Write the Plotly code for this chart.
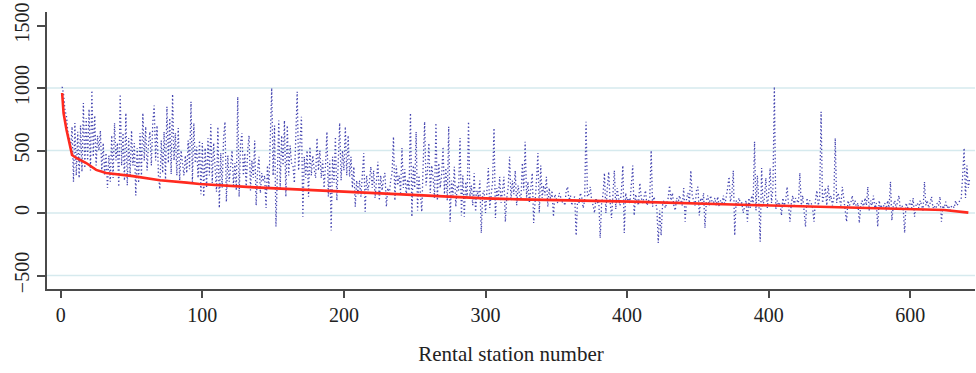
import plotly.graph_objects as go

# Blue dotted series: observed value per rental station (stations 1..642)
blue_values = [
    1010, 950, 820, 780, 650, 600, 520, 690, 250, 720,
    300, 650, 280, 700, 330, 880, 360, 760, 420, 830,
    340, 980, 450, 780, 380, 620, 500, 660, 330, 560,
    300, 480, 200, 460, 250, 620, 280, 720, 420, 560,
    210, 950, 380, 640, 260, 800, 220, 600, 300, 660,
    380, 560, 140, 520, 240, 640, 300, 800, 420, 690,
    340, 560, 650, 380, 720, 860, 420, 700, 300, 190,
    580, 320, 650, 270, 850, 400, 760, 310, 950, 420,
    640, 300, 680, 260, 500, 410, 300, 460, 320, 580,
    350, 890, 250, 720, 400, 530, 280, 580, 150, 560,
    130, 520, 200, 600, 300, 710, 240, 560, 350, 170,
    690, 40, 480, 200, 600, 730, 90, 460, 250, 380,
    500, 220, 400, 180, 930, 130, 560, 640, 300, 480,
    200, 500, 620, 180, 420, 280, 580, 60, 330, 450,
    160, 320, 250, 300, 40, 380, 200, 600, 1000, 300,
    700, -110, 400, 740, 200, 620, 380, 740, 130, 700,
    300, 540, 400, 380, 240, 560, 970, 340, 620, 770,
    -30, 450, 280, 500, 130, 530, 300, 460, 350, 280,
    600, 340, 500, 280, 420, 200, 380, 650, 130, 420,
    -140, 450, 240, 610, 100, 380, 720, 260, 500, 340,
    690, 300, 620, 290, 450, 200, 370, 50, 260, 150,
    260, 130, 320, 480, 10, 300, 180, 250, 370, 200,
    340, 120, 260, 410, 100, 300, 180, 280, 320, 50,
    200, 140, 260, 320, 610, 100, 380, 220, 300, 160,
    520, 200, 350, 140, 270, 180, 800, -30, 380, 200,
    650, 20, 300, 140, 10, 400, 730, 220, 330, 560,
    160, 380, 280, 120, 720, 100, 400, 200, 300, 530,
    150, 360, 100, 690, -70, 260, 140, 370, 50, 220,
    180, 600, -20, 300, -30, 250, 120, 730, 130, 220,
    60, 320, 10, 180, 120, 260, -160, 150, 180, 0,
    200, 360, 40, 140, 250, 680, -40, 200, 100, 290,
    80, 180, 290, -70, 120, 200, 450, 100, 260, 150,
    340, 60, 220, 150, 100, 400, 180, 570, 120, 250,
    80, 200, 320, -80, 150, 260, 480, 0, 380, 120,
    220, 140, 290, 50, 200, 100, 180, -30, 150, 120,
    80, 160, 130, 80, 110, 60, 180, 210, 100, 140,
    60, 120, 130, -180, 100, 80, 160, 120, 40, 100,
    730, 130, 150, 210, 100, 60, 0, 120, 80, 100,
    -200, 80, 150, 320, 0, 200, 330, 90, -40, 150,
    340, 30, 200, 120, 60, 180, 380, -160, 160, 100,
    120, 80, 200, 380, -20, 150, 100, 60, 240, 120,
    80, 140, 180, 60, 100, 120, 500, 50, 130, 80,
    40, -240, 20, -180, 60, 100, 40, 80, 120, 220,
    100, 160, 60, 20, 120, 80, 140, 100, 60, 200,
    -70, 120, 160, 80, 340, 140, 100, 60, 180, 210,
    -20, 120, 80, 160, -120, 100, 140, 60, 140, 90,
    80, 120, 60, 130, 50, 100, 80, 140, 60, 120,
    200, 290, 90, 150, 340, -180, 100, 60, 120, 80,
    80, 0, 60, 100, -70, 120, 40, 140, 80, 570,
    20, 300, 100, -230, 360, 60, 120, 280, 40, 150,
    360, 80, 200, 1010, 30, 100, 60, 80, -20, 120,
    60, 100, 210, 40, -70, 80, 140, 60, 120, 100,
    80, 320, 60, 140, 40, -110, 120, 60, 100, 80,
    40, -70, 100, 180, 60, 120, 810, 80, 140, 200,
    60, 220, 100, 140, 60, 120, 600, 80, 160, 100,
    60, 210, 120, 40, -70, 100, 60, 80, 140, 60,
    100, 40, 80, -80, 60, 100, 40, 120, 60, 210,
    20, 100, 60, 140, 40, 80, -110, 100, 40, 60,
    50, 80, 20, 100, 40, 250, -60, 60, 100, 40,
    80, 140, 20, 60, 40, -160, 80, 40, 60, 100,
    40, 120, -30, 60, 80, 40, 100, 60, 20, 250,
    60, 100, 40, 80, 130, 40, 60, 20, 80, 60,
    130, -70, 60, 40, 90, 40, 60, 20, 50, 60,
    40, 100, 60, 80, 100, 120, 300, 520, 120, 380,
    200, 280,
]
blue_stations = list(range(1, len(blue_values) + 1))

# Red solid curve: sorted / fitted value, read at key stations
red_stations = [1, 2, 4, 8, 11, 18, 25, 32, 51, 70, 89, 98, 137, 162,
                229, 300, 324, 403, 487, 554, 624, 641]
red_values = [960, 800, 670, 464, 440, 400, 345, 320, 295, 262, 243, 232,
              205, 192, 152, 117, 109, 91, 64, 43, 24, 3]

x_tick_vals = [0, 100, 200, 300, 400, 500, 600]
x_tick_text = ["0", "100", "200", "300", "400", "400", "600"]
y_tick_vals = [-500, 0, 500, 1000, 1500]
grid_values = [-500, 0, 500, 1000]

FONT = "Liberation Serif, Times New Roman, serif"
AXIS_COLOR = "#4a4a4a"
TEXT_COLOR = "#222222"

fig = go.Figure()
fig.add_trace(go.Scatter(
    x=blue_stations, y=blue_values, mode="lines",
    line=dict(color="#4545b0", width=1.3, dash="1.3px,2.4px"),
    showlegend=False, hoverinfo="skip",
))
fig.add_trace(go.Scatter(
    x=red_stations, y=red_values, mode="lines",
    line=dict(color="#ff2a1f", width=2.6),
    showlegend=False, hoverinfo="skip",
))

for g in grid_values:
    fig.add_shape(type="line", xref="paper", yref="y", x0=0, x1=1, y0=g, y1=g,
                  line=dict(color="#d6eaee", width=1.5), layer="below")

fig.update_layout(
    width=976, height=373,
    margin=dict(l=47, r=1, t=12, b=84),
    paper_bgcolor="white", plot_bgcolor="white",
    font=dict(family=FONT, size=20, color=TEXT_COLOR),
    xaxis=dict(
        range=[-9.7, 645.7],
        tickmode="array", tickvals=x_tick_vals, ticktext=x_tick_text,
        ticks="outside", ticklen=7, tickwidth=1.5, tickcolor=AXIS_COLOR,
        showline=True, linecolor=AXIS_COLOR, linewidth=1.5,
        showgrid=False, zeroline=False,
        tickfont=dict(family=FONT, size=20, color=TEXT_COLOR),
        title=dict(text="Rental station number", standoff=22,
                   font=dict(family=FONT, size=21, color=TEXT_COLOR)),
    ),
    yaxis=dict(
        range=[-608, 1608],
        tickmode="array", tickvals=y_tick_vals,
        ticks="outside", ticklen=8, tickwidth=1.5, tickcolor=AXIS_COLOR,
        showline=True, linecolor=AXIS_COLOR, linewidth=1.5,
        showgrid=False, zeroline=False,
        tickangle=-90,
        tickfont=dict(family=FONT, size=20, color=TEXT_COLOR),
    ),
)

fig.write_html("out.html")
